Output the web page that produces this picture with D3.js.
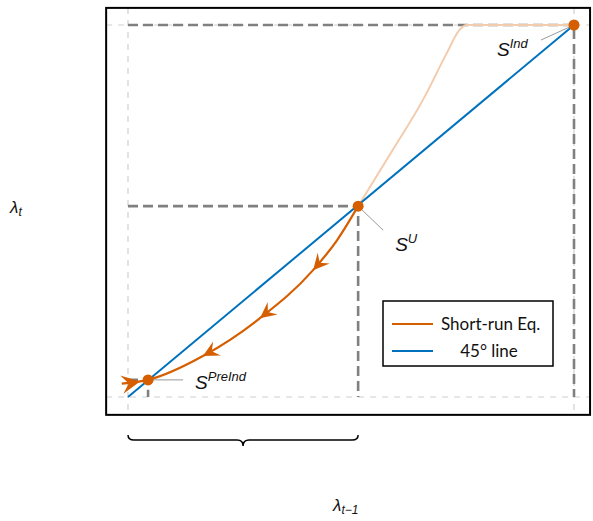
<!DOCTYPE html>
<html>
<head>
<meta charset="utf-8">
<script src="https://cdn.jsdelivr.net/npm/d3@7"></script>
<style>
  body { margin: 0; background: #fff; }
  svg { display: block; }
  .lbl { font-family: "Liberation Sans", Arial, sans-serif; font-style: italic; fill: #111; }
  .leg { font-family: Lato, "Open Sans", sans-serif; font-size: 17px; fill: #111; }
</style>
</head>
<body>
<div id="chart"></div>
<script>
// short-run equilibrium curve, lambda_{t-1} -> lambda_t
const curveX = [-0.014, 0.045, 0.168, 0.296, 0.415, 0.469, 0.516]
const curveY = [0.036, 0.046, 0.110, 0.212, 0.341, 0.422, 0.513]
// continuation above the 45 degree line (faded)
const upperX = [0.516, 0.59, 0.661, 0.715, 0.742, 0.76, 1.0]
const upperY = [0.513, 0.657, 0.798, 0.925, 0.985, 1.0, 1.0]

const steady = [
  {name: 'PreInd', x: 0.045, y: 0.046},
  {name: 'U', x: 0.516, y: 0.513},
  {name: 'Ind', x: 1.0, y: 1.0}
]
const arrowX = [0.168, 0.296, 0.415]
const legendItems = [
  {label: 'Short-run Eq.', color: '#D55E00'},
  {label: '45\u00B0 line', color: '#0072BD'}
]

const width = 593, height = 521
const xLim = [-0.049, 1.036], yLim = [-0.048, 1.046]

const x = d3.scaleLinear().domain([0, 1]).range([128, 574])
const y = d3.scaleLinear().domain([0, 1]).range([397, 25])

const svg = d3.select('#chart').append('svg')
.attr('width', width)
.attr('height', height)

const orange = '#D55E00', blue = '#0072BD'

// light reference lines
const light = svg.append('g')
.attr('stroke', '#d0d0d0')
.attr('stroke-width', 1.2)
.attr('stroke-dasharray', '6,6')

light.append('line').attr('x1', x(0)).attr('x2', x(0)).attr('y1', y(yLim[1])).attr('y2', y(yLim[0]))
light.append('line').attr('x1', x(xLim[0])).attr('x2', x(xLim[1])).attr('y1', y(0)).attr('y2', y(0))
light.append('line').attr('x1', x(xLim[0])).attr('x2', x(xLim[1])).attr('y1', y(1)).attr('y2', y(1))
light.append('line').attr('x1', x(1)).attr('x2', x(1)).attr('y1', y(yLim[1])).attr('y2', y(yLim[0]))

// dark projection lines from steady states
const dark = svg.append('g')
.attr('stroke', '#808080')
.attr('stroke-width', 2.6)
.attr('stroke-dasharray', '10,5')
.attr('fill', 'none')

steady.forEach(d => {
  dark.append('path')
  .attr('d', `M${x(0)},${y(d.y)}H${x(d.x)}V${y(0)}`)
})

// faded continuation
const line = d3.line().x(d => x(d[0])).y(d => y(d[1])).curve(d3.curveMonotoneX)

svg.append('path')
.datum(upperX.map((v, i) => [v, upperY[i]]))
.attr('d', line)
.attr('fill', 'none')
.attr('stroke', '#F3CBAD')
.attr('stroke-width', 2)

// 45 degree line
svg.append('line')
.attr('x1', x(0)).attr('y1', y(0))
.attr('x2', x(1)).attr('y2', y(1))
.attr('stroke', blue)
.attr('stroke-width', 2)

// short-run curve
const srPath = svg.append('path')
.datum(curveX.map((v, i) => [v, curveY[i]]))
.attr('d', line)
.attr('fill', 'none')
.attr('stroke', orange)
.attr('stroke-width', 2.2)

// arrowheads along the curve
const node = srPath.node()
const total = node.getTotalLength()

const lengthAtX = px => {
  let lo = 0, hi = total
  for (let i = 0; i < 40; i++) {
    let mid = (lo + hi) / 2
    if (node.getPointAtLength(mid).x < px) lo = mid
    else hi = mid
  }
  return lo
}

const arrowHead = (l, dir, s) => {
  let p = node.getPointAtLength(l)
  let q = node.getPointAtLength(Math.max(0, Math.min(total, l + 2 * dir)))
  let ang = Math.atan2(q.y - p.y, q.x - p.x) * 180 / Math.PI
  svg.append('path')
  .attr('d', 'M0,0 L-16,-8 L-10,0 L-16,8 Z')
  .attr('fill', orange)
  .attr('transform', `translate(${p.x},${p.y}) rotate(${ang}) scale(${s})`)
}

arrowX.forEach(v => arrowHead(lengthAtX(x(v)), -1, 1))
arrowHead(lengthAtX(x(0.027)), 1, 1.15)

// annotation leader lines and labels
const notes = [
  {name: 'PreInd', dx: 35, dy: 0, tx: 47, ty: 9},
  {name: 'U', dx: 25, dy: 24, tx: 37, ty: 45},
  {name: 'Ind', dx: -33, dy: 15, tx: -77, ty: 31}
]

notes.forEach(n => {
  let d = steady.find(f => f.name === n.name)
  svg.append('line')
  .attr('x1', x(d.x)).attr('y1', y(d.y))
  .attr('x2', x(d.x) + n.dx).attr('y2', y(d.y) + n.dy)
  .attr('stroke', '#999')
  .attr('stroke-width', 1)

  let t = svg.append('text')
  .attr('class', 'lbl')
  .attr('x', x(d.x) + n.tx)
  .attr('y', y(d.y) + n.ty)
  .style('font-size', '19px')
  t.append('tspan').text('S')
  t.append('tspan').attr('dy', -8).style('font-size', '13px').text(d.name)
})

// steady state dots
svg.selectAll('circle.ss')
.data(steady)
.enter()
.append('circle')
.attr('class', 'ss')
.attr('cx', d => x(d.x))
.attr('cy', d => y(d.y))
.attr('r', 5.5)
.attr('fill', orange)

// frame
svg.append('rect')
.attr('x', x(xLim[0])).attr('y', y(yLim[1]))
.attr('width', x(xLim[1]) - x(xLim[0]))
.attr('height', y(yLim[0]) - y(yLim[1]))
.attr('fill', 'none')
.attr('stroke', '#000')
.attr('stroke-width', 2)

// brace under the basin of attraction
const bx0 = x(0), bx1 = x(steady[1].x), bm = (bx0 + bx1) / 2
const by = 440
svg.append('path')
.attr('d', `M${bx0},${by - 5} Q${bx0},${by} ${bx0 + 6},${by} L${bm - 6},${by} Q${bm},${by} ${bm},${by + 6} Q${bm},${by} ${bm + 6},${by} L${bx1 - 6},${by} Q${bx1},${by} ${bx1},${by - 5}`)
.attr('fill', 'none')
.attr('stroke', '#000')
.attr('stroke-width', 1.5)

// legend
const lg = svg.append('g').attr('transform', 'translate(383,301)')
lg.append('rect')
.attr('width', 170).attr('height', 65)
.attr('fill', '#fff').attr('stroke', '#000').attr('stroke-width', 1.5)

legendItems.forEach((d, i) => {
  let yy = 23 + i * 27
  lg.append('line')
  .attr('x1', 9).attr('x2', 50).attr('y1', yy).attr('y2', yy)
  .attr('stroke', d.color).attr('stroke-width', 2)
  lg.append('text')
  .attr('class', 'leg')
  .attr('x', i === 0 ? 58 : 106)
  .attr('y', yy + 6)
  .attr('text-anchor', i === 0 ? 'start' : 'middle')
  .text(d.label)
})

// axis labels
const yl = svg.append('text').attr('class', 'lbl').attr('x', 10).attr('y', 213).style('font-size', '17px')
yl.append('tspan').text('\u03BB')
yl.append('tspan').attr('dy', 3).style('font-size', '12px').text('t')

const xl = svg.append('text').attr('class', 'lbl').attr('x', 333).attr('y', 511).style('font-size', '17px')
xl.append('tspan').text('\u03BB')
xl.append('tspan').attr('dy', 3).style('font-size', '12px').text('t\u22121')
</script>
</body>
</html>
